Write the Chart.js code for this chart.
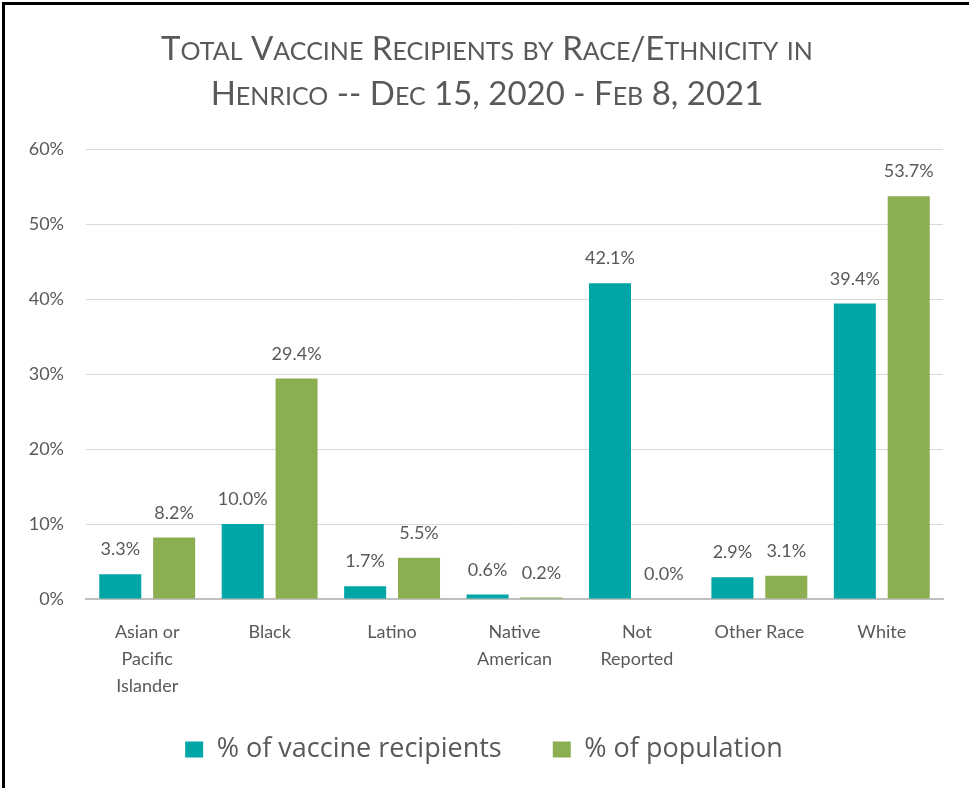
<!DOCTYPE html>
<html>
<head>
<meta charset="utf-8">
<script src="https://cdn.jsdelivr.net/npm/chart.js@4.4.1/dist/chart.umd.min.js"></script>
<style>
  html, body { margin: 0; padding: 0; background: #fff; }
  #frame {
    position: absolute; left: 2px; top: 2px;
    width: 964px; height: 783px;
    border-left: 3px solid #000; border-top: 3px solid #000;
  }
  #chart { display: block; }
</style>
</head>
<body>
<div id="frame"><canvas id="chart" width="964" height="783"></canvas></div>
<script>
// vacinados x população por raça — Henrico
const titleLines = ['Total Vaccine Recipients by Race/Ethnicity in', 'Henrico -- Dec 15, 2020 - Feb 8, 2021'];
const categories = [
  ['Asian or', 'Pacific', 'Islander'],
  ['Black'],
  ['Latino'],
  ['Native', 'American'],
  ['Not', 'Reported'],
  ['Other Race'],
  ['White']
];
const recipients = [3.3, 10.0, 1.7, 0.6, 42.1, 2.9, 39.4];
const population = [8.2, 29.4, 5.5, 0.2, 0.0, 3.1, 53.7];
const yTicks = [0, 10, 20, 30, 40, 50, 60];

const GREY = '#595959';
const FONT = 'Lato, "Liberation Sans", sans-serif';

// título em versalete (small caps) desenhado à mão
const smallCapsTitle = {
  id: 'smallCapsTitle',
  afterDraw(chart) {
    const ctx = chart.ctx;
    const big = 33, small = 25;
    ctx.save();
    ctx.fillStyle = GREY;
    ctx.textBaseline = 'alphabetic';
    ctx.textAlign = 'left';
    titleLines.forEach((line, k) => {
      // quebra em trechos maiúsculos/minúsculos
      const parts = [];
      for (const ch of line) {
        const low = ch !== ch.toUpperCase();
        const last = parts[parts.length - 1];
        if (last && last.low === low) last.t += ch;
        else parts.push({ t: ch, low });
      }
      let w = 0;
      parts.forEach(p => {
        ctx.font = `${p.low ? small : big}px ${FONT}`;
        p.s = p.low ? p.t.toUpperCase() : p.t;
        p.w = ctx.measureText(p.s).width;
        w += p.w;
      });
      let x = chart.width / 2 - w / 2;
      const y = 55 + k * 45;
      parts.forEach(p => {
        ctx.font = `${p.low ? small : big}px ${FONT}`;
        ctx.fillText(p.s, x, y);
        x += p.w;
      });
    });
    ctx.restore();
  }
};

// rótulos de valor acima das barras
const valueLabels = {
  id: 'valueLabels',
  afterDatasetsDraw(chart) {
    const ctx = chart.ctx;
    ctx.save();
    ctx.font = `18px ${FONT}`;
    ctx.fillStyle = GREY;
    ctx.textAlign = 'center';
    ctx.textBaseline = 'alphabetic';
    chart.data.datasets.forEach((ds, i) => {
      chart.getDatasetMeta(i).data.forEach((bar, j) => {
        ctx.fillText(ds.data[j].toFixed(1) + '%', bar.x, bar.y - 19);
      });
    });
    ctx.restore();
  }
};

new Chart(document.getElementById('chart'), {
  type: 'bar',
  data: {
    labels: categories,
    datasets: [
      { label: '% of vaccine recipients', data: recipients, backgroundColor: '#00A5A5',
        categoryPercentage: 0.88, barPercentage: 0.78 },
      { label: '% of population', data: population, backgroundColor: '#8BAE50',
        categoryPercentage: 0.88, barPercentage: 0.78 }
    ]
  },
  options: {
    responsive: false,
    animation: false,
    layout: { padding: { left: 20, right: 26, top: 144, bottom: 15 } },
    plugins: {
      title: { display: false },
      legend: {
        position: 'bottom',
        labels: {
          color: GREY, boxWidth: 18, boxHeight: 16, padding: 16,
          font: { family: '"Open Sans", Lato, sans-serif', size: 27 },
          // espaço extra entre os itens sem aumentar a altura da legenda
          generateLabels: chart => Chart.defaults.plugins.legend.labels.generateLabels(chart)
            .map((item, i) => i === 0 ? { ...item, text: item.text + '     ' } : item)
        }
      },
      tooltip: { enabled: false }
    },
    scales: {
      x: {
        grid: { display: false, drawTicks: false },
        border: { color: '#BFBFBF', width: 2 },
        ticks: { color: GREY, font: { family: FONT, size: 18, lineHeight: 1.5 }, padding: 20, maxRotation: 0, autoSkip: false }
      },
      y: {
        min: 0, max: 60,
        afterBuildTicks: axis => { axis.ticks = yTicks.map(v => ({ value: v })); },
        afterFit: axis => { axis.width = 61; },
        grid: { color: '#D9D9D9', lineWidth: 1, drawTicks: false },
        border: { display: false },
        ticks: { color: GREY, font: { family: FONT, size: 18 }, padding: 22, callback: v => v + '%' }
      }
    }
  },
  plugins: [valueLabels, smallCapsTitle]
});
</script>
</body>
</html>
